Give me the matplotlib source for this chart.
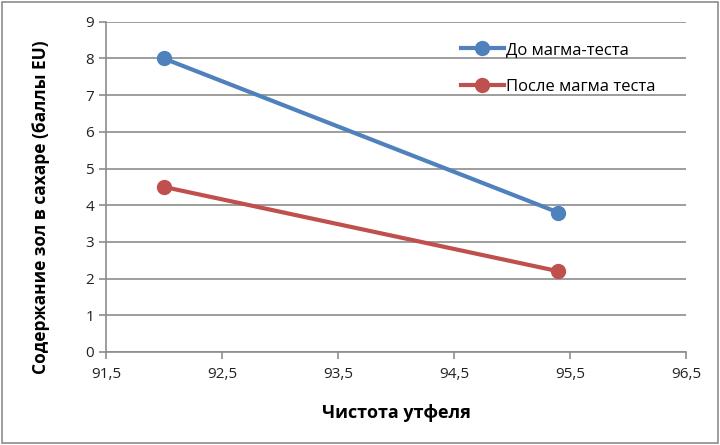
import matplotlib
matplotlib.use('Agg')
import matplotlib.pyplot as plt
from matplotlib.patches import Rectangle

plt.rcParams['font.family'] = ['Open Sans', 'DejaVu Sans']

# data
purity = [92.0, 95.4]
before = [8.0, 3.8]
after = [4.5, 2.2]
xticks = [91.5, 92.5, 93.5, 94.5, 95.5, 96.5]
xtick_labels = ['91,5', '92,5', '93,5', '94,5', '95,5', '96,5']
labels = ['До магма-теста', 'После магма теста']

fig = plt.figure(figsize=(7.2, 4.45), dpi=100)
ax = fig.add_axes([0.147, 0.209, 0.806, 0.742])

ax.plot(purity, before, color='#4F81BD', lw=3, marker='o', ms=10, label=labels[0])
ax.plot(purity, after, color='#C0504D', lw=3, marker='o', ms=10, label=labels[1])

ax.set_xlim(91.5, 96.5)
ax.set_ylim(0, 9)
ax.set_xticks(xticks)
ax.set_xticklabels(xtick_labels)
ax.set_yticks(range(10))
ax.grid(axis='y', color='#8c8c8c', lw=1.2)
ax.set_axisbelow(True)
for s in ['top', 'right']:
    ax.spines[s].set_visible(False)
for s in ['left', 'bottom']:
    ax.spines[s].set_color('#8c8c8c')
    ax.spines[s].set_linewidth(1.2)
ax.tick_params(colors='#8c8c8c', labelcolor='#222222', labelsize=11, length=5, width=1.2)
ax.tick_params(axis='x', pad=6)

ax.set_ylabel('Содержание зол в сахаре (баллы EU)', fontsize=12.5, fontweight='bold')
ax.yaxis.set_label_coords(-0.097, 0.44)
ax.set_xlabel('Чистота утфеля', fontsize=13, fontweight='bold', labelpad=16)

ax.legend(loc='upper left', bbox_to_anchor=(0.6, 0.96), frameon=False, fontsize=12,
          handlelength=2.6, handletextpad=0.1, labelspacing=1.25, borderaxespad=0)

fig.patches.append(Rectangle((0.003, 0.004), 0.994, 0.992, transform=fig.transFigure,
                             fill=False, edgecolor='#8c8c8c', lw=1.2))

fig.savefig('out.png', dpi=100)
